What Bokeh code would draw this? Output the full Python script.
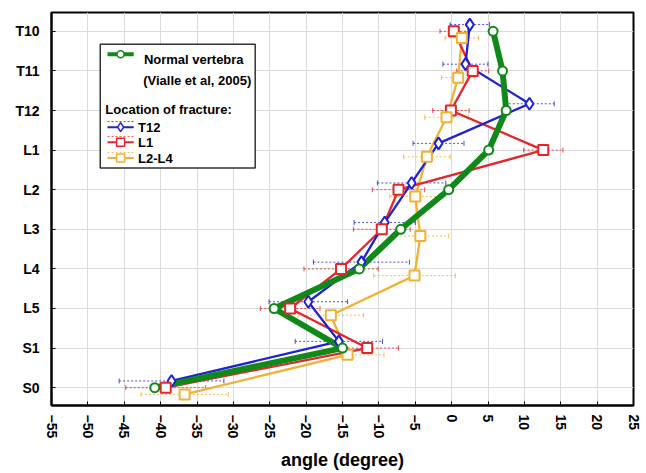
import numpy as np
from bokeh.plotting import figure
from bokeh.models import FixedTicker
from bokeh.core.properties import value
from bokeh.embed import file_html
from bokeh.resources import INLINE

# ---- data (top to bottom) ----
levels = ["T10", "T11", "T12", "L1", "L2", "L3", "L4", "L5", "S1", "S0"]
normal = [5.7, 7.0, 7.5, 5.1, -0.4, -7.0, -12.7, -24.4, -15.0, -40.8]
t12 = [2.5, 1.9, 10.7, -1.8, -5.5, -9.2, -12.4, -19.7, -15.5, -38.5]
l1 = [0.3, 2.9, -0.1, 12.6, -7.3, -9.6, -15.2, -22.2, -11.6, -39.3]
l24 = [1.4, 0.9, -0.7, -3.4, -5.0, -4.3, -5.1, -16.6, -14.3, -36.7]
t12_err = [2.7, 3.1, 3.4, 3.5, 4.7, 4.2, 6.6, 5.4, 6.0, 7.2]
l1_err = [1.9, 2.2, 2.5, 2.7, 3.6, 3.9, 5.1, 4.1, 4.3, 5.5]
l24_err = [2.3, 2.3, 3.0, 3.2, 3.5, 3.9, 5.6, 4.5, 5.0, 6.0]
x_ticks = list(range(-55, 30, 5))

GREEN = "#11891a"
BLUE = "#1f22d2"
RED = "#e2262b"
YELLOW = "#f0b135"
FONT = value("Liberation Sans")

ypos = np.arange(len(levels))[::-1].astype(float)

p = figure(width=646, height=473, x_range=(-55, 25), y_range=(-0.45, 9.475),
           output_backend="svg", toolbar_location=None,
           min_border_left=51, min_border_right=13, min_border_top=12,
           min_border_bottom=65)
p.background_fill_color = "white"
p.border_fill_color = "white"
p.outline_line_color = "black"
p.outline_line_width = 2

p.xgrid.grid_line_color = "#dadada"
p.ygrid.grid_line_color = "#dadada"

p.xaxis.ticker = FixedTicker(ticks=x_ticks)
p.yaxis.ticker = FixedTicker(ticks=list(range(len(levels))))
p.yaxis.major_label_overrides = {int(y): lab for y, lab in zip(ypos, levels)}
for ax in (p.xaxis, p.yaxis):
    ax.axis_line_color = "black"
    ax.axis_line_width = 2
    ax.major_tick_in = 4
    ax.major_tick_out = 0
    ax.minor_tick_line_color = None
    ax.major_tick_line_color = "black"
    ax.major_label_text_font = "Liberation Sans"
    ax.major_label_text_font_style = "bold"
    ax.major_label_text_color = "black"
p.xaxis.major_label_orientation = "vertical"
p.xaxis.major_label_text_font_size = "14px"
p.xaxis.major_label_standoff = 9
p.yaxis.major_label_text_font_size = "14px"
p.yaxis.major_label_standoff = 12
p.xaxis.axis_label = "angle (degree)"
p.xaxis.axis_label_text_font = "Liberation Sans"
p.xaxis.axis_label_text_font_style = "bold"
p.xaxis.axis_label_text_font_size = "18px"
p.xaxis.axis_label_text_color = "black"
p.xaxis.axis_label_standoff = 9

series = [
    (t12, t12_err, BLUE, 0.17, "diamond", 12),
    (l1, l1_err, RED, 0.0, "square", 10),
    (l24, l24_err, YELLOW, -0.17, "square", 10),
]

# error bars
for vals, err, col, off, mk, sz in series:
    v = np.array(vals)
    e = np.array(err)
    yy = ypos + off
    p.segment(x0=v - e, x1=v + e, y0=yy, y1=yy, line_color=col,
              line_width=1, line_dash="2 2", line_alpha=0.8)
    p.scatter(x=np.concatenate([v - e, v + e]), y=np.concatenate([yy, yy]),
              marker="dash", angle=np.pi / 2, size=5, line_color=col,
              line_width=1, line_alpha=0.8)

# lines
for vals, err, col, off, mk, sz in reversed(series):
    p.line(x=vals, y=ypos + off, line_color=col, line_width=2.3)
p.line(x=normal, y=ypos, line_color=GREEN, line_width=6)

# markers
for vals, err, col, off, mk, sz in series:
    p.scatter(x=vals, y=ypos + off, marker=mk, size=sz, fill_color="white",
              line_color=col, line_width=2)
p.scatter(x=normal, y=ypos, marker="circle", size=9, fill_color="white",
          line_color=GREEN, line_width=2)

# ---- legend (drawn manually) ----
p.quad(left=[-48.3], right=[-27.0], bottom=[5.55], top=[8.675],
       fill_color="white", line_color="#333333", line_width=1.5)
gx0, gx1, gxm = -47.3, -43.7, -45.5
p.line(x=[gx0, gx1], y=[8.42, 8.42], line_color=GREEN, line_width=4)
p.scatter(x=[gxm], y=[8.42], marker="circle", size=7, fill_color="white",
          line_color=GREEN, line_width=1.5)
p.text(x=[-42.3, -42.4], y=[8.28, 7.75],
       text=["Normal vertebra", "(Vialle et al, 2005)"],
       text_font=FONT, text_font_style="bold", text_font_size="13px",
       text_baseline="middle", text_align="left", text_color="black")
p.text(x=[-47.6], y=[7.03], text=["Location of fracture:"],
       text_font=FONT, text_font_style="bold", text_font_size="13px",
       text_baseline="middle", text_align="left", text_color="black")
leg_items = [("T12", BLUE, "diamond", 9, 6.58), ("L1", RED, "square", 8, 6.2),
             ("L2-L4", YELLOW, "square", 8, 5.8)]
for lab, col, mk, sz, yy in leg_items:
    p.line(x=[gx0, gx1], y=[yy + 0.14, yy + 0.14], line_color=col,
           line_width=1, line_dash="2 2", line_alpha=0.8)
    p.line(x=[gx0, gx1], y=[yy, yy], line_color=col, line_width=2)
    p.scatter(x=[gxm], y=[yy], marker=mk, size=sz, fill_color="white",
              line_color=col, line_width=1.5)
    p.text(x=[-43.1], y=[yy], text=[lab], text_font=FONT,
           text_font_style="bold", text_font_size="13px",
           text_baseline="middle", text_align="left", text_color="black")

open("out.html", "w").write(file_html(p, INLINE))
